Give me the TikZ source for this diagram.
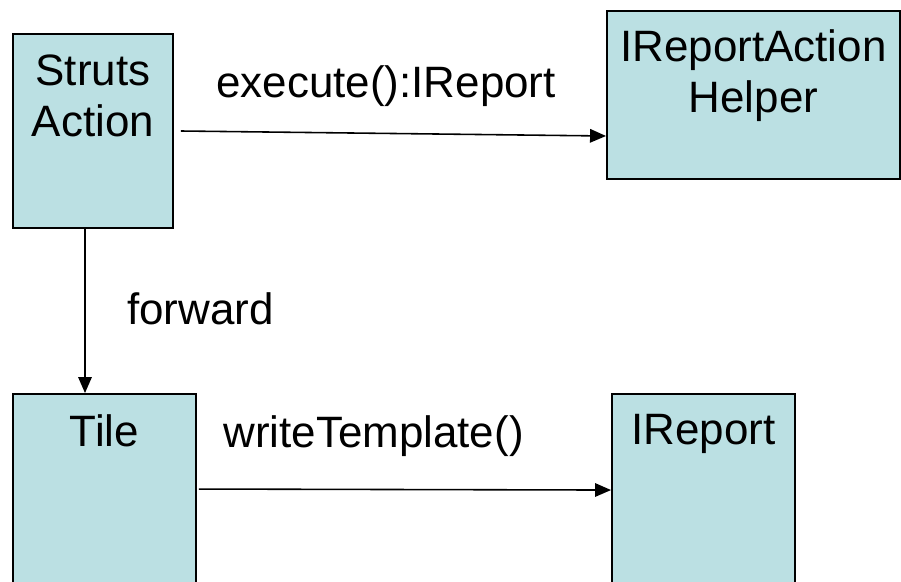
\documentclass[tikz,border=0pt]{standalone}
\usepackage{fontspec}
\setmainfont{Liberation Sans}
\usetikzlibrary{positioning,arrows.meta}
\definecolor{boxfill}{RGB}{187,224,227}

\tikzset{
umlbox/.style={draw=black, line width=1.1pt, fill=boxfill, inner sep=0pt},
boxtext/.style={align=center, font=\fontsize{25}{29}\selectfont, inner sep=0pt, anchor=north},
msg/.style={font=\fontsize{25}{29}\selectfont, inner sep=0pt, anchor=base west},
link/.style={line width=0.9pt, -{Triangle[length=0.32cm,width=0.27cm]}}
}

\begin{document}
\begin{tikzpicture}
\useasboundingbox (0,0) rectangle (18.02,11.62);
\clip (0,0) rectangle (18.02,11.62);
%
% top row
\node[umlbox, minimum width=3.2cm, minimum height=3.88cm] (struts) at (1.86,9.0) {};
\node[boxtext, below=0.42cm of struts.north] (strutslbl) {Struts\\Action};
\node[umlbox, minimum width=5.86cm, minimum height=3.36cm] (helper) at (15.07,9.72) {};
\node[boxtext, below=0.38cm of helper.north] (helperlbl) {IReportAction\\Helper};

% bottom row
\node[umlbox, minimum width=3.66cm, minimum height=4.12cm] (tile) at (2.09,1.68) {};
\node[boxtext, below=0.42cm of tile.north] (tilelbl) {Tile};
\node[umlbox, minimum width=3.66cm, minimum height=4.12cm] (report) at (14.07,1.68) {};
\node[boxtext, below=0.42cm of report.north] (reportlbl) {IReport};

% messages
\draw[link] ([xshift=0.14cm]struts.east) -- ([yshift=-0.82cm]helper.west);
\node[msg] (execlbl) at (4.32,9.68) {execute():IReport};

\draw[link] ([xshift=-0.16cm]struts.south) -- ([xshift=-0.16cm]struts.south |- tile.north);
\node[msg] (fwdlbl) at (2.54,5.14) {forward};

\draw[link] ([xshift=0.04cm,yshift=-1.92cm]tile.north east) -- ([yshift=-1.94cm]report.north west);
\node[msg] (writelbl) at (4.46,2.68) {writeTemplate()};

\end{tikzpicture}
\end{document}
